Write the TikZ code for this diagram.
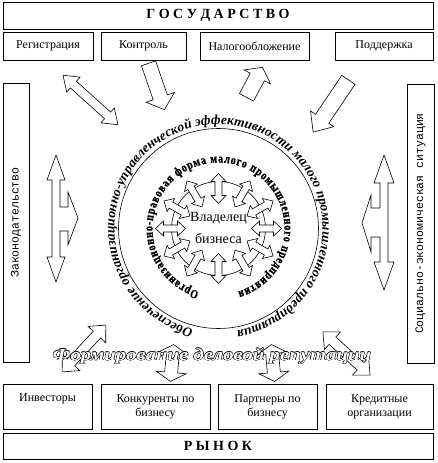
\documentclass[tikz,border=0pt]{standalone}
\usepackage{fontspec}
\setmainfont{Liberation Serif}
\setmonofont{Liberation Mono}
\newfontfamily\ringfont[FakeStretch=0.8, FakeBold=1.2]{Liberation Serif Bold}
\usetikzlibrary{positioning, calc, decorations.text}
\tikzset{
  every picture/.style={line width=0.8pt},
  box/.style={draw=black, fill=white, align=center, inner sep=2pt, font=\fontsize{12}{14}\selectfont},
  headbox/.style={box, font=\bfseries\fontsize{14}{16}\selectfont},
  sidebox/.style={box, rotate=90, font=\ttfamily\fontsize{11.5}{13}\selectfont},
  blk/.style={draw=black, fill=white, line width=0.6pt, line join=miter},
  ring/.style={draw=black, line width=0.6pt},
  reptext/.style={inner sep=0pt, font=\bfseries\itshape\fontsize{17}{19}\selectfont},
}
\newcommand{\blockdbl}[7]{%
  \begin{scope}[shift={({#1},{#2})}, rotate=#3]
    \pgfmathsetmacro{\arrhalf}{#4/2}
    \pgfmathsetmacro{\arrbase}{#4/2-#7}
    \draw[blk] (-\arrhalf,0) -- (-\arrbase,#6) -- (-\arrbase,#5) -- (\arrbase,#5) -- (\arrbase,#6) -- (\arrhalf,0)
      -- (\arrbase,-#6) -- (\arrbase,-#5) -- (-\arrbase,-#5) -- (-\arrbase,-#6) -- cycle;
  \end{scope}}
\newcommand{\blocksgl}[7]{%
  \begin{scope}[shift={({#1},{#2})}, rotate=#3]
    \pgfmathsetmacro{\arrhalf}{#4/2}
    \pgfmathsetmacro{\arrbase}{#4/2-#7}
    \draw[blk] (-\arrhalf,#5) -- (\arrbase,#5) -- (\arrbase,#6) -- (\arrhalf,0) -- (\arrbase,-#6) -- (\arrbase,-#5) -- (-\arrhalf,-#5) -- cycle;
  \end{scope}}
\newcommand{\reptxt}{\scalebox{1.22}[1]{Формирование деловой репутации}}

\begin{document}
\begin{tikzpicture}[x=1pt, y=1pt]
  \useasboundingbox (0,0) rectangle (437,463);
  \node[headbox, minimum width=430, minimum height=27] (gos) at (218,447.5) {Г О С У Д А Р С Т В О};
  \node[box, minimum width=90, minimum height=28] (reg) at (48,417) {Регистрация};
  \node[box, minimum width=85, minimum height=28] (kontr) at (143.5,417) {Контроль};
  \node[box, minimum width=109, minimum height=28] (nalog) at (254.5,417) {Налогообложение};
  \node[box, minimum width=98, minimum height=28] (podd) at (384,417) {Поддержка};
  \node[sidebox, minimum width=279, minimum height=26] (zakon) at (16,240.5) {Законодательство};
  \node[sidebox, minimum width=279, minimum height=27] (soc) at (420.5,239.5) {Социально-экономическая ситуация};
  \node[box, minimum width=89, minimum height=45] (inv) at (47.5,56.5) {Инвесторы\\\strut};
  \node[box, minimum width=109, minimum height=45] (konk) at (155.5,56.5) {Конкуренты по\\бизнесу};
  \node[box, minimum width=99, minimum height=45] (partn) at (267.5,56.5) {Партнеры по\\бизнесу};
  \node[box, minimum width=107, minimum height=45] (kred) at (379.5,56.5) {Кредитные\\организации};
  \node[headbox, minimum width=430, minimum height=26] (rynok) at (218,17) {Р Ы Н О К};

  \coordinate (c) at (218.5,234.5);
  \draw[ring] (c) circle[radius=100];
  \draw[ring] (c) circle[radius=47];
  \foreach \a in {0,30,...,330}
    \blockdbl{218.5+48*cos(\a)}{234.5+40*sin(\a)}{\a}{30}{3.5}{7.5}{8};
  \node[font=\fontsize{14}{22}\selectfont, align=center] (owner) at (218.5,235.5) {Владелец\\бизнеса};

  \path[decorate, decoration={text along path, text align={fit to path},
      text={|\ringfont\fontsize{12.5}{13}\selectfont|Организационно-правовая форма малого промышленного предприятия}}]
    ($(c)+(253:66)$) arc[start angle=253, end angle=-73, radius=66];
  \path[decorate, decoration={text along path, text align={fit to path},
      text={|\bfseries\itshape\fontsize{13.5}{14}\selectfont|Обеспечение организационно-управленческой эффективности малого промышленного предприятия}}]
    ($(c)+(256:104)$) arc[start angle=256, end angle=-80, radius=104];

  \blockdbl{90.5}{363}{-42}{74}{4.5}{10}{14}
  \blocksgl{156.5}{376.5}{-71}{49}{7.5}{15}{13}
  \blocksgl{254.5}{380.7}{62}{34}{8}{15}{11}
  \blocksgl{330.8}{357}{-124}{63}{8}{14}{16}
  \blockdbl{84}{114.5}{47}{64}{5}{12}{13}
  \blockdbl{172}{100}{85}{37}{6.5}{15}{9}
  \blockdbl{273}{100}{95}{37}{6.5}{15}{9}
  \blockdbl{346.5}{109.5}{-42.5}{64}{5}{12}{13}
  \draw[blk] (56,308) -- (65,283) -- (60,283) -- (60,256) -- (68,256) -- (68,271) -- (78,245) -- (68,218) -- (68,232)
    -- (60,232) -- (60,206) -- (65,206) -- (56,181) -- (47,206) -- (52,206) -- (52,283) -- (47,283) -- cycle;
  \draw[blk] (384,308) -- (394,280) -- (388,280) -- (388,201) -- (394,201) -- (384,173) -- (374,201) -- (380,201)
    -- (380,226) -- (371,226) -- (371,211) -- (362,240) -- (371,268) -- (371,255) -- (380,255) -- (380,280) -- (374,280) -- cycle;

  \coordinate (repc) at (212,107);
  \foreach \a in {0,45,...,315}
    \node[reptext, text=black] (rep\a) at ($(repc)+(\a:0.4)$) {\reptxt};
  \node[reptext, text=white] (rep) at (repc) {\reptxt};
\end{tikzpicture}
\end{document}
